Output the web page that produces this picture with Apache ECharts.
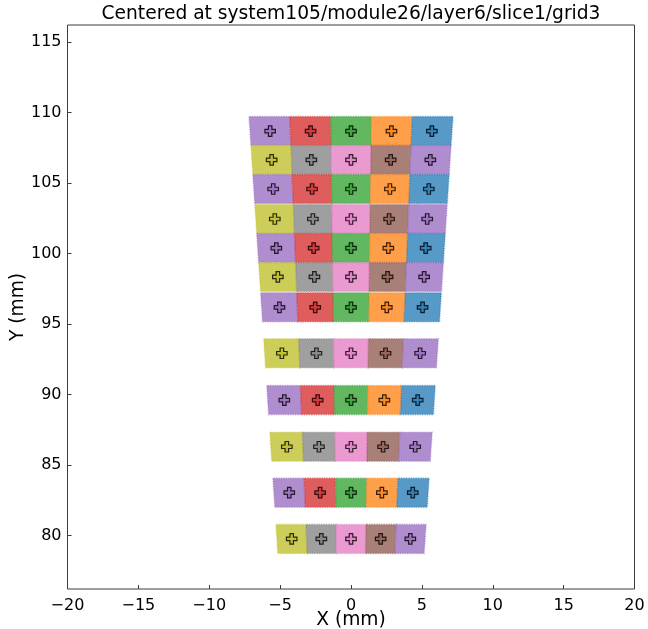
<!DOCTYPE html>
<html>
<head>
<meta charset="utf-8">
<script src="https://cdn.jsdelivr.net/npm/echarts@6/dist/echarts.min.js"></script>
<style>
  html, body { margin: 0; padding: 0; background: #ffffff; }
  #chart { width: 648px; height: 629px; }
</style>
</head>
<body>
<div id="chart"></div>
<script>
// Axis ticks
const xTicks = [-20, -15, -10, -5, 0, 5, 10, 15, 20];
const yTicks = [80, 85, 90, 95, 100, 105, 110, 115];

// One entry per row of the module, top to bottom (mm)
const rowCenterY = [108.68, 106.63, 104.57, 102.44, 100.38, 98.33, 96.18, 92.92, 89.60, 86.29, 83.03, 79.75];
const rowWidth   = [14.26, 13.99, 13.72, 13.44, 13.17, 12.90, 12.62, 12.19, 11.76, 11.32, 10.89, 10.46];
const rowHeight  = 2.06;
const cellsPerRow = 5;

// Which grid colour group each cell of a row belongs to
const rowPattern = ['A', 'B', 'A', 'B', 'A', 'B', 'A', 'B', 'A', 'B', 'A', 'B'];
const patternGroups = {
  A: ['purple', 'red', 'green', 'orange', 'blue'],
  B: ['olive', 'gray', 'pink', 'brown', 'purple']
};

// ---- styling ----
const tab = {
  blue: '#1f77b4', orange: '#ff7f0e', green: '#2ca02c', red: '#d62728',
  purple: '#9467bd', brown: '#8c564b', pink: '#e377c2', gray: '#7f7f7f', olive: '#bcbd22'
};
const FONT = 'DejaVu Sans';
const PLUS = 'path://M4,0L8,0L8,4L12,4L12,8L8,8L8,12L4,12L4,8L0,8L0,4L4,4Z';

function hexToRgba(hex, a) {
  const n = parseInt(hex.slice(1), 16);
  return 'rgba(' + ((n >> 16) & 255) + ',' + ((n >> 8) & 255) + ',' + (n & 255) + ',' + a + ')';
}

// Cell records: [x centre, y centre, row index, cell index]
const cellData = [];
const markerData = [];
rowCenterY.forEach(function (yc, r) {
  const w = rowWidth[r];
  for (let c = 0; c < cellsPerRow; c++) {
    const frac = -0.5 + (c + 0.5) / cellsPerRow;
    const group = patternGroups[rowPattern[r]][c];
    cellData.push({ value: [frac * w, yc, r, c], group: group });
    markerData.push({
      value: [frac * w, yc],
      itemStyle: { color: hexToRgba(tab[group], 0.85), borderColor: '#000', borderWidth: 1.2 }
    });
  }
});

function renderCell(params, api) {
  const r = api.value(2);
  const c = api.value(3);
  const yc = rowCenterY[r];
  const w = rowWidth[r];
  const f0 = -0.5 + c / cellsPerRow;
  const f1 = f0 + 1 / cellsPerRow;
  const y0 = yc - rowHeight / 2;
  const y1 = yc + rowHeight / 2;
  // edges follow the wedge: width grows with distance from the beam line
  const pts = [
    api.coord([f0 * w * y0 / yc, y0]),
    api.coord([f1 * w * y0 / yc, y0]),
    api.coord([f1 * w * y1 / yc, y1]),
    api.coord([f0 * w * y1 / yc, y1])
  ];
  const col = tab[cellData[params.dataIndex].group];
  return {
    type: 'polygon',
    shape: { points: pts },
    style: {
      fill: hexToRgba(col, 0.75),
      stroke: hexToRgba(col, 0.45),
      lineWidth: 1.6,
      lineDash: [1.2, 1.2]
    }
  };
}

const minusFmt = function (v) { return String(v).replace('-', '\u2212'); };

const chart = echarts.init(document.getElementById('chart'), null, { renderer: 'canvas' });
chart.setOption({
  animation: false,
  backgroundColor: '#ffffff',
  graphic: [{
    type: 'text',
    x: 351, y: 14,
    style: {
      text: 'Centered at system105/module26/layer6/slice1/grid3',
      font: '18.67px "DejaVu Sans"',
      fill: '#000',
      align: 'center',
      verticalAlign: 'middle'
    }
  }],
  grid: {
    left: 67.5, right: 13.5, top: 25, bottom: 40,
    outerBoundsMode: 'none', containLabel: false,
    show: true, borderColor: '#3c3c3c', borderWidth: 1, backgroundColor: 'transparent'
  },
  xAxis: {
    type: 'value', min: -20, max: 20, interval: 5,
    name: 'X (mm)', nameLocation: 'middle', nameGap: 22, nameMoveOverlap: false,
    nameTextStyle: { fontFamily: FONT, fontSize: 18.67, color: '#000' },
    axisLine: { show: false, onZero: false },
    axisTick: { show: true, inside: true, length: 4, lineStyle: { color: '#3c3c3c' },
                customValues: xTicks },
    axisLabel: { fontFamily: FONT, fontSize: 16, color: '#000', margin: 9, formatter: minusFmt,
                 customValues: xTicks },
    splitLine: { show: false }
  },
  yAxis: {
    type: 'value', min: 76.2, max: 116.2,
    name: 'Y (mm)', nameLocation: 'middle', nameGap: 40, nameRotate: 90, nameMoveOverlap: false,
    nameTextStyle: { fontFamily: FONT, fontSize: 18.67, color: '#000' },
    axisLine: { show: false, onZero: false },
    axisTick: { show: true, inside: true, length: 4, lineStyle: { color: '#3c3c3c' },
                customValues: yTicks },
    axisLabel: { fontFamily: FONT, fontSize: 16, color: '#000', margin: 6, formatter: minusFmt,
                 customValues: yTicks },
    splitLine: { show: false }
  },
  series: [
    {
      type: 'custom',
      renderItem: renderCell,
      encode: { x: 0, y: 1 },
      data: cellData,
      z: 2
    },
    {
      type: 'scatter',
      symbol: PLUS,
      symbolSize: 10.5,
      data: markerData,
      z: 3
    }
  ]
});
</script>
</body>
</html>
